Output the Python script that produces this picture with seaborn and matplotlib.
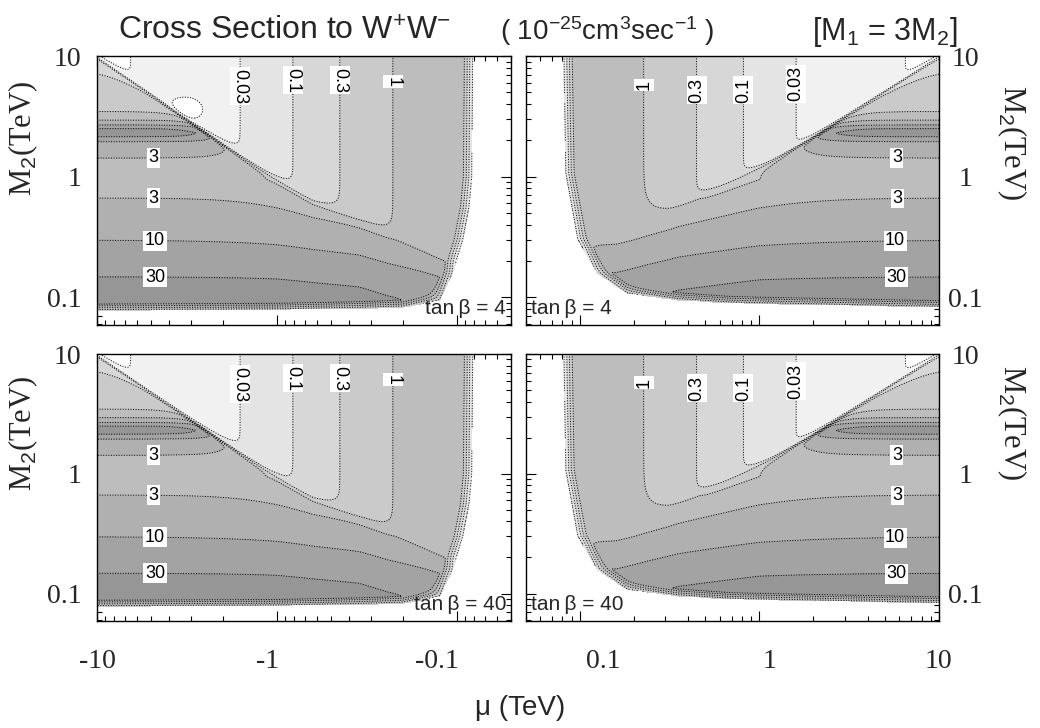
import numpy as np
import matplotlib.pyplot as plt
import seaborn as sns
from matplotlib.ticker import LogLocator, NullFormatter, FixedLocator

sns.set_theme(style="white")
plt.rcParams["font.family"] = ["Liberation Sans", "DejaVu Sans"]
plt.rcParams["mathtext.fontset"] = "custom"
plt.rcParams["mathtext.rm"] = "Liberation Sans"
plt.rcParams["mathtext.it"] = "Liberation Sans:italic"
SERIF = ["Liberation Serif", "DejaVu Serif"]

# ----------------------------------------------------------------------
# values (cross section in 1e-25 cm^3/s, masses in TeV)
# ----------------------------------------------------------------------
LEVELS = [0.01, 0.03, 0.1, 0.3, 1, 3, 10, 30]
LABELLED = [0.03, 0.1, 0.3, 1, 3, 10, 30]
LABEL_TEXT = ["0.03", "0.1", "0.3", "1", "3", "10", "30"]
GREYS = ["#ffffff", "#f1f1f1", "#e4e4e4", "#d7d7d7", "#cacaca",
         "#bdbdbd", "#b0b0b0", "#a3a3a3", "#969696"]

# wino-like LSP: cross section along M2 (far from the switch line)
WINO_M2 = [0.06, 0.10, 0.148, 0.298, 0.665, 0.95, 1.43, 1.95, 2.14, 2.3, 2.51, 2.68, 2.94, 3.45, 5.0, 7.4, 10.0]
WINO_SIGMA = [70, 50, 30, 10, 3, 1.8, 3, 10, 30, 45, 30, 10, 3, 1, 0.55, 0.3, 0.2]

# higgsino-like LSP: cross section along |mu| (far from the switch line)
HIGGS_MU = [0.05, 0.10, 0.15, 0.227, 0.447, 0.815, 1.6, 3.0, 5.0, 6.5, 10.0]
HIGGS_SIGMA = [2.6, 2.2, 1.6, 1.0, 0.3, 0.1, 0.03, 0.016, 0.0115, 0.01, 0.008]

# wino / higgsino switch line: log10(M2/|mu|) along |mu|
DIAG_MU = [0.05, 0.08, 0.13, 0.2, 0.316, 0.63, 1.15, 2.0, 10.0]
DIAG_NEG = [0.33, 0.27, 0.2, 0.15, 0.09, -0.03, -0.04, -0.04, -0.016]
DIAG_POS = [0.5, 0.48, 0.42, 0.3, 0.2, 0.11, 0.05, 0.02, -0.01]

# higgsino contours bend this far (decades) above the switch line, and how much they rise there
BEND_MU = [0.05, 0.1, 0.227, 0.447, 0.815, 1.6, 10.0]
BEND_NEG = [0.14, 0.14, 0.137, 0.116, 0.1, 0.085, 0.05]
BEND_POS = [0.25, 0.24, 0.23, 0.08, 0.07, 0.05, 0.04]
HBOOST_NEG = [0.05, 0.12, 0.45, 0.6, 0.6, 0.6, 0.6]
HBOOST_POS = [0.05, 0.1, 0.45, 0.6, 0.6, 0.6, 0.6]

# wino suppression below the switch line
WIDTH_M2 = [0.06, 0.3, 1.0, 3.0, 10.0]
WWIDTH_NEG = [0.3, 0.3, 0.12, 0.06, 0.05]
WWIDTH_POS = [0.35, 0.35, 0.15, 0.06, 0.05]
WDIP_NEG = 0.35
WDIP_POS = 0.45
LOW_MU = [0.05, 0.08, 0.125, 0.161, 0.24, 0.35, 1.0, 10.0]
LOW_NEG = [0.5, 0.4, 0.25, 0.2, 0.14, 0.05, 0.0, 0.0]
LOW_POS = [0.6, 0.45, 0.25, 0.26, 0.16, 0.08, 0.0, 0.0]

BLEND_MU = [0.05, 0.3, 1.0, 10.0]
BLEND_W = [0.04, 0.035, 0.015, 0.006]

# small dip (< 0.01) above the diagonal, upper-left panel only
DIP_MU = [3.1]
DIP_M2 = [3.6]
DIP_R = 0.11
DIP_DEPTH = 0.45

# edge of the white (excluded) region
EDGE_MU_NEG = [0.081, 0.082, 0.085, 0.092, 0.105, 0.124, 0.2, 1.0, 10.0]
EDGE_M2_NEG = [10.0, 1.0, 0.56, 0.3, 0.16, 0.095, 0.082, 0.079, 0.078]
EDGE_MU_POS = [0.081, 0.083, 0.097, 0.125, 0.183, 0.348, 0.687, 10.0]
EDGE_M2_POS = [10.0, 1.07, 0.30, 0.158, 0.108, 0.095, 0.0895, 0.083]
EDGE_W = 0.06
EDGE_DROP = 2.0

# contour label spots (|mu|, M2)
LABEL_POS_NEG = [(1.6, 5.6), (0.815, 6.3), (0.447, 6.3), (0.227, 6.1),
                 (4.87, 1.43), (4.87, 0.665), (4.76, 0.298), (4.76, 0.148)]
LABEL_POS_POS = [(0.221, 5.75), (0.438, 5.2), (0.83, 5.2), (1.8, 5.9),
                 (5.83, 1.37), (5.9, 0.665), (5.7, 0.298), (5.8, 0.147)]

TAN_BETA = ["4", "4", "40", "40"]
X_TICKS_NEG = ["-10", "-1", "-0.1"]
X_TICKS_POS = ["0.1", "1", "10"]
X_TICK_PX_NEG = [97, 268, 437]
X_TICK_PX_POS = [603, 770, 938]


def lg(a):
    return np.log10(np.asarray(a, dtype=float))


lu = np.linspace(np.log10(0.05), 1.0, 520)
lv = np.linspace(np.log10(0.059), 1.0, 400)
U, V = np.meshgrid(lu, lv)
MU, M2 = 10 ** U, 10 ** V


def cross_section(diag, bend, hboost, wwidth, wdip, low, edge_mu, edge_m2, dips):
    w = np.interp(V, lg(WINO_M2), lg(WINO_SIGMA))
    h = np.interp(U, lg(HIGGS_MU), lg(HIGGS_SIGMA))
    s = V - U - np.interp(U, lg(DIAG_MU), diag)
    sb = np.interp(U, lg(BEND_MU), bend)
    hb = np.interp(U, lg(BEND_MU), hboost)
    zh = h + hb * np.exp(-3 * np.clip(s, 0, None) / sb)
    for dm, d2 in dips:
        r2 = ((U - np.log10(dm)) ** 2 + (V - np.log10(d2)) ** 2) / DIP_R ** 2
        zh = zh - DIP_DEPTH * np.exp(-r2)
    wt = np.interp(V, lg(WIDTH_M2), wwidth)
    zw = w - wdip * np.exp(-np.clip(-s, 0, None) / wt) - np.interp(U, lg(LOW_MU), low)
    bw = np.interp(U, lg(BLEND_MU), BLEND_W)
    t = 0.5 * (1 + np.tanh(s / bw))
    z = (1 - t) * zw + t * zh

    em, e2 = lg(edge_mu), lg(edge_m2)
    o = np.argsort(e2)
    ub = np.interp(V, e2[o], em[o])
    o = np.argsort(em)
    vb = np.interp(U, em[o], e2[o])
    d1, d2 = U - ub, V - vb
    d = np.where((d1 > 0) & (d2 > 0), d1 * d2 / np.sqrt(d1 ** 2 + d2 ** 2 + 1e-12), -1.0)
    z = z - EDGE_DROP * np.clip(1 - d / EDGE_W, 0, 1)
    return np.where(d > 0, z, np.nan)


fig = plt.figure(figsize=(10.4, 7.28), dpi=100)
W_PX, H_PX = 1040, 728
rects = [
    (97, 56, 414, 269), (525.7, 56, 413.3, 269),
    (97, 354, 414, 267), (525.7, 354, 413.3, 267),
]
fill_levels = [-9] + list(lg(LEVELS)) + [9]
unlabelled = [l for l in LEVELS if l not in LABELLED]


def fmt(x):
    return LABEL_TEXT[int(np.argmin(np.abs(lg(LABELLED) - x)))]


for k, (x0, y0, wpx, hpx) in enumerate(rects):
    neg = k % 2 == 0
    ax = fig.add_axes([x0 / W_PX, 1 - (y0 + hpx) / H_PX, wpx / W_PX, hpx / H_PX])
    if neg:
        z = cross_section(DIAG_NEG, BEND_NEG, HBOOST_NEG, WWIDTH_NEG, WDIP_NEG, LOW_NEG,
                          EDGE_MU_NEG, EDGE_M2_NEG,
                          list(zip(DIP_MU, DIP_M2)) if k == 0 else [])
    else:
        z = cross_section(DIAG_POS, BEND_POS, HBOOST_POS, WWIDTH_POS, WDIP_POS, LOW_POS,
                          EDGE_MU_POS, EDGE_M2_POS, [])

    ax.contourf(MU, M2, z, levels=fill_levels, colors=GREYS)
    ax.contour(MU, M2, z, levels=lg(unlabelled), colors="black", linewidths=0.7, linestyles=":")
    cs = ax.contour(MU, M2, z, levels=lg(LABELLED), colors="black",
                    linewidths=0.7, linestyles=":")
    texts = ax.clabel(cs, manual=LABEL_POS_NEG if neg else LABEL_POS_POS,
                      inline=True, inline_spacing=2, fmt=fmt, fontsize=13)
    for tx in texts:
        rot = tx.get_rotation() % 180
        if 45 < rot < 135:
            tx.set_rotation(270 if neg else 90)
        else:
            tx.set_rotation(0)
        tx.set_bbox(dict(boxstyle="square,pad=0.08", fc="white", ec="none"))

    ax.set_xscale("log")
    ax.set_yscale("log")
    ax.set_xlim((10, 0.05) if neg else (0.05, 10))
    ax.set_ylim(0.059, 10)
    ax.xaxis.set_major_locator(FixedLocator([0.1, 1, 10]))
    ax.xaxis.set_minor_locator(LogLocator(base=10, subs=np.arange(2, 10)))
    ax.yaxis.set_major_locator(FixedLocator([0.1, 1, 10]))
    ax.yaxis.set_minor_locator(LogLocator(base=10, subs=np.arange(2, 10)))
    ax.xaxis.set_minor_formatter(NullFormatter())
    ax.yaxis.set_minor_formatter(NullFormatter())
    ax.tick_params(which="both", direction="in", top=True, bottom=True, left=True, right=True,
                   labelbottom=False, labeltop=False, color="black", width=0.8)
    ax.tick_params(which="major", length=7)
    ax.tick_params(which="minor", length=3.5)
    if neg:
        ax.set_yticklabels(["0.1", "1", "10"], fontfamily=SERIF, fontsize=20)
        ax.tick_params(axis="y", labelleft=True, labelright=False, pad=11)
    else:
        ax.set_yticklabels(["0.1", "1", "10"], fontfamily=SERIF, fontsize=20, ha="center")
        ax.tick_params(axis="y", labelleft=False, labelright=True, pad=19)
    for sp in ax.spines.values():
        sp.set_color("black")
        sp.set_linewidth(1.0)

    tb = "tan\u2009\u03b2 = " + TAN_BETA[k]
    if neg:
        ax.text(0.988, 0.025, tb, transform=ax.transAxes, ha="right", va="bottom", fontsize=15)
    else:
        ax.text(0.012, 0.025, tb, transform=ax.transAxes, ha="left", va="bottom", fontsize=15)

for lab, px in zip(X_TICKS_NEG + X_TICKS_POS, X_TICK_PX_NEG + X_TICK_PX_POS):
    fig.text(px / W_PX, 1 - 662 / H_PX, lab, ha="center", va="center",
             fontfamily=SERIF, fontsize=20)

title_y = 1 - 40 / H_PX
fig.text(118 / W_PX, title_y, r"Cross Section to W$^{+}$W$^{-}$",
         ha="left", va="baseline", fontsize=23)
fig.text(500 / W_PX, title_y, r"( 10$^{-25}$cm$^{3}$sec$^{-1}$ )",
         ha="left", va="baseline", fontsize=20)
fig.text(957 / W_PX, title_y, r"[M$_{1}$ = 3M$_{2}$]",
         ha="right", va="baseline", fontsize=22)
fig.text(520 / W_PX, 1 - 708 / H_PX, "\u03bc (TeV)", ha="center", va="center", fontsize=20)
for yc in (138, 433):
    fig.text(23 / W_PX, 1 - yc / H_PX, r"M$_2$(TeV)", rotation=90, ha="center", va="center",
             fontfamily=SERIF, fontsize=22)
for yc in (143, 423):
    fig.text(1012 / W_PX, 1 - yc / H_PX, r"M$_2$(TeV)", rotation=270, ha="center", va="center",
             fontfamily=SERIF, fontsize=22)

fig.savefig("out.png", dpi=100)
